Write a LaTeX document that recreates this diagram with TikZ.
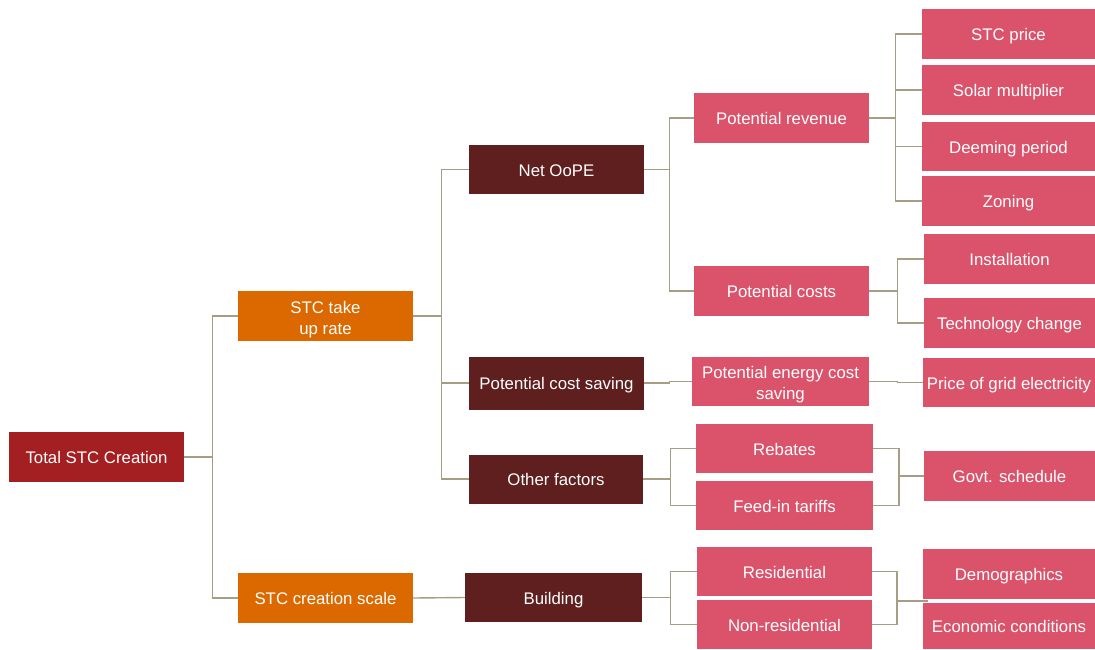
\documentclass[tikz,border=0pt]{standalone}
\usepackage{fontspec}
\setmainfont{Liberation Sans}
\definecolor{cTot}{HTML}{A31F22}
\definecolor{cOra}{HTML}{DC6900}
\definecolor{cBrn}{HTML}{5E1F1E}
\definecolor{cPnk}{HTML}{DB536B}
\definecolor{cLn}{HTML}{A59E84}
\newcommand\firstline{\rule{0pt}{19pt}}
\begin{document}
\begin{tikzpicture}[x=1pt,y=-1pt,
  box/.style={rectangle, inner sep=0pt, text=white, align=center,
    font=\fontsize{16.8}{21}\selectfont},
  one/.style={text height=16pt, text depth=3pt},
  tot/.style={box, one, fill=cTot},
  ora/.style={box, fill=cOra},
  brn/.style={box, one, fill=cBrn},
  pnk/.style={box, one, fill=cPnk},
  pnktwo/.style={box, fill=cPnk},
  link/.style={draw=cLn, line width=1.4pt}]
\useasboundingbox (0,0) rectangle (1095,649);
% level 1-2
\node[tot, minimum width=175pt, minimum height=50pt] (tot) at (96.5,457) {Total STC Creation};
\node[ora, minimum width=175pt, minimum height=50pt] (take) at (325.5,316) {\firstline STC take\\up rate};
\node[ora, one, minimum width=175pt, minimum height=50pt] (scale) at (325.5,598) {STC creation scale};
% level 3
\node[brn, minimum width=175pt, minimum height=49pt] (net) at (556.5,169.5) {Net OoPE};
\node[brn, minimum width=175pt, minimum height=53pt] (pcs) at (556.5,383) {Potential cost saving};
\node[brn, minimum width=174pt, minimum height=49pt] (other) at (556,479) {Other factors};
\node[brn, minimum width=177pt, minimum height=49pt] (bld) at (553.5,597.5) {Building};
% level 4
\node[pnk, minimum width=175pt, minimum height=50pt] (rev) at (781.5,118) {Potential revenue};
\node[pnk, minimum width=175pt, minimum height=50pt] (cost) at (781.5,291) {Potential costs};
\node[pnktwo, minimum width=177pt, minimum height=49pt] (pecs) at (780.5,381.5) {\firstline Potential energy cost\\saving};
\node[pnk, minimum width=177pt, minimum height=49pt] (reb) at (784.5,448.5) {Rebates};
\node[pnk, minimum width=177pt, minimum height=49pt] (fit) at (784.5,505.5) {Feed-in tariffs};
\node[pnk, minimum width=175pt, minimum height=49pt] (res) at (784.5,571.5) {Residential};
\node[pnk, minimum width=175pt, minimum height=49pt] (nres) at (784.5,624.5) {Non-residential};
% level 5
\node[pnk, minimum width=173pt, minimum height=50pt] (stcp) at (1008.5,34) {STC price};
\node[pnk, minimum width=173pt, minimum height=50pt] (sm) at (1008.5,90) {Solar multiplier};
\node[pnk, minimum width=173pt, minimum height=49pt] (dp) at (1008.5,146.5) {Deeming period};
\node[pnk, minimum width=173pt, minimum height=50pt] (zon) at (1008.5,201) {Zoning};
\node[pnk, minimum width=171pt, minimum height=50pt] (inst) at (1009.5,259) {Installation};
\node[pnk, minimum width=171pt, minimum height=50pt] (tech) at (1009.5,323) {Technology change};
\node[pnk, minimum width=172pt, minimum height=49pt] (pge) at (1009,382.5) {Price of grid electricity};
\node[pnk, minimum width=171pt, minimum height=50pt] (govt) at (1009.5,476) {Govt. schedule};
\node[pnk, minimum width=172pt, minimum height=50pt] (demo) at (1009,574) {Demographics};
\node[pnk, minimum width=172pt, minimum height=46pt] (econ) at (1009,626) {Economic conditions};
% connectors
\draw[link] (tot.east) -- ++(28,0) coordinate (j1);
\draw[link] (j1) |- (take.west);
\draw[link] (j1) |- (scale.west);
\draw[link] (take.east) -- ++(28,0) coordinate (j2);
\draw[link] (j2) |- (net.west);
\draw[link] (j2) |- (pcs.west);
\draw[link] (j2) |- (other.west);
\draw[link] (scale.east) -- (bld.west);
\draw[link] (net.east) -- ++(25,0) coordinate (j3);
\draw[link] (j3) |- (rev.west);
\draw[link] (j3) |- (cost.west);
\draw[link] (pcs.east) -- ++(25,0) |- (pecs.west);
\draw[link] (other.east) -- ++(27,0) coordinate (j4);
\draw[link] (j4) |- (reb.west);
\draw[link] (j4) |- (fit.west);
\draw[link] (bld.east) -- ++(28,0) coordinate (j5);
\draw[link] (j5) |- (res.west);
\draw[link] (j5) |- (nres.west);
\draw[link] (rev.east) -- ++(26,0) coordinate (j6);
\draw[link] (j6) |- (stcp.west);
\draw[link] (j6) |- (sm.west);
\draw[link] (j6) |- (dp.west);
\draw[link] (j6) |- (zon.west);
\draw[link] (cost.east) -- ++(28,0) coordinate (j7);
\draw[link] (j7) |- (inst.west);
\draw[link] (j7) |- (tech.west);
\draw[link] (pecs.east) -- ++(28,0) |- (pge.west);
\coordinate (jg) at (899,476);
\draw[link] (reb.east) -| (jg) |- (fit.east);
\draw[link] (jg) -- (govt.west);
\coordinate (jd) at (897,601);
\coordinate (dgap) at (928,601);
\draw[link] (res.east) -| (jd) |- (nres.east);
\draw[link] (jd) -- (dgap);
\end{tikzpicture}
\end{document}
